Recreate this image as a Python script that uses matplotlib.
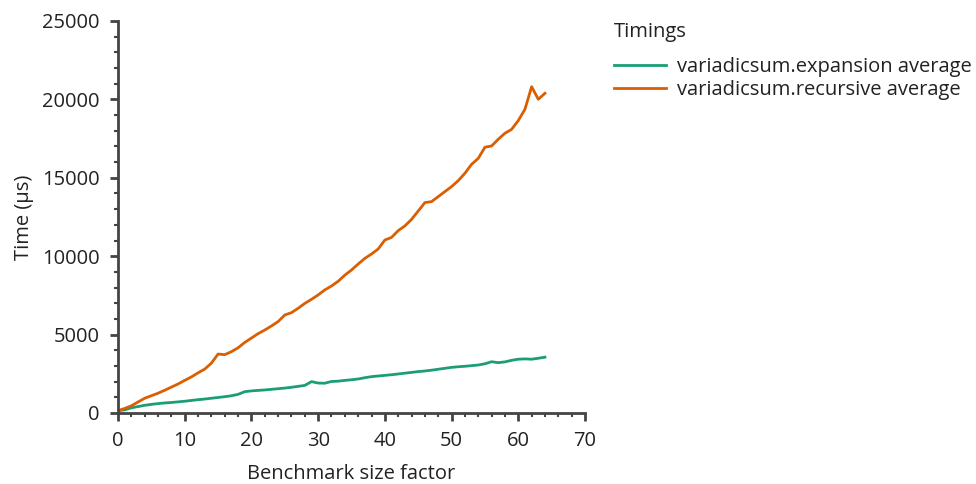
import matplotlib
matplotlib.use("Agg")
import matplotlib.pyplot as plt
from matplotlib.ticker import MultipleLocator

plt.rcParams['font.family'] = ['Open Sans', 'DejaVu Sans']

size_factor = list(range(0, 65))
expansion_avg = [150, 200, 330, 410, 490, 550, 600, 640, 670, 710, 750, 800, 850, 890, 940, 990, 1040, 1100, 1190, 1360,
                 1410, 1440, 1470, 1510, 1550, 1590, 1640, 1700, 1760, 2000, 1910, 1900, 2010, 2030, 2080, 2120,
                 2170, 2250, 2320, 2360, 2400, 2440, 2490, 2540, 2590, 2640, 2680, 2730, 2790, 2850, 2910, 2950,
                 2980, 3020, 3060, 3140, 3270, 3210, 3260, 3360, 3430, 3450, 3430, 3490, 3560]
recursive_avg = [150, 290, 460, 700, 940, 1100, 1260, 1450, 1650, 1850, 2080, 2300, 2560, 2800, 3180, 3760, 3720, 3910,
                 4160, 4500, 4780, 5060, 5290, 5550, 5830, 6250, 6400, 6680, 6990, 7250, 7530, 7850, 8100,
                 8400, 8790, 9120, 9500, 9860, 10140, 10460, 11030, 11200, 11630, 11930, 12350, 12880, 13420,
                 13480, 13800, 14120, 14440, 14820, 15290, 15860, 16240, 16950, 17030, 17460, 17840, 18090,
                 18650, 19370, 20810, 20010, 20390]

green = '#1b9e77'
orange = '#d95f02'
spine_c = '#444444'
text_c = '#222222'
fs = 14.5

fig = plt.figure(figsize=(9.76, 4.84), dpi=100)
ax = fig.add_axes([118/976, 1 - 413/484, (585-118)/976, (413-21)/484])

ax.plot(size_factor, expansion_avg, color=green, lw=2, label='variadicsum.expansion average')
ax.plot(size_factor, recursive_avg, color=orange, lw=2, label='variadicsum.recursive average')

ax.set_xlim(0, 70)
ax.set_ylim(0, 25000)
ax.xaxis.set_major_locator(MultipleLocator(10))
ax.xaxis.set_minor_locator(MultipleLocator(2))
ax.yaxis.set_major_locator(MultipleLocator(5000))
ax.yaxis.set_minor_locator(MultipleLocator(1000))

for s in ['top', 'right']:
    ax.spines[s].set_visible(False)
for s in ['left', 'bottom']:
    ax.spines[s].set_color(spine_c)
    ax.spines[s].set_linewidth(2)

ax.tick_params(which='major', length=6, width=2, color=spine_c, labelsize=fs, labelcolor=text_c)
ax.tick_params(which='minor', length=3, width=1.5, color=spine_c)
ax.tick_params(axis='x', which='major', pad=7)
ax.tick_params(axis='y', which='major', pad=7)

ax.set_xlabel('Benchmark size factor', fontsize=fs, color=text_c, labelpad=9)
ax.set_ylabel('Time (µs)', fontsize=fs, color=text_c, labelpad=6)

leg = fig.legend(loc='upper left', bbox_to_anchor=(614/976, 1 - 22/484), frameon=False,
                 title='Timings', fontsize=fs, title_fontsize=fs, handlelength=2.6,
                 borderpad=0, borderaxespad=0, labelspacing=0.15, handletextpad=0.55)
leg._legend_box.align = 'left'
leg._legend_box.sep = 11
leg.get_title().set_color(text_c)
for t in leg.get_texts():
    t.set_color(text_c)
for h in leg.legend_handles:
    h.set_linewidth(2)

fig.savefig('out.png', dpi=100)
